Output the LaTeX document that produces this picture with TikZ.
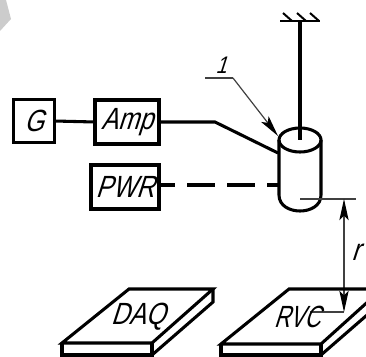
\documentclass[tikz,border=0pt]{standalone}
\usepackage{fontspec}
\usetikzlibrary{arrows.meta}
\newfontfamily\gostfont[FakeSlant=0.32,FakeStretch=0.82]{Liberation Sans}
\newfontfamily\gostnarrow[FakeSlant=0.32,FakeStretch=0.72]{Liberation Sans}
\tikzset{
  px/.style={x=0.75pt,y=-0.75pt},
  thick line/.style={line width=2.3pt,line join=miter},
  thin line/.style={line width=0.9pt,black!75},
  label box/.style={draw,line width=2.3pt,outer sep=0pt,inner sep=0pt,font=\gostfont\fontsize{23}{23}\selectfont},
  label text/.style={inner sep=0pt,font=\gostfont\fontsize{23}{23}\selectfont},
  >={Stealth[length=16pt,width=7pt,inset=3.5pt,black]},
}
\begin{document}
\begin{tikzpicture}[px]
\useasboundingbox (0,0) rectangle (366,356);
\clip (0,0) rectangle (366,356);
\fill[gray!40] (0,0) -- (6,0) -- (11,19) -- (0,31) -- cycle;

\node[label box,minimum width=30.75pt,minimum height=32.25pt] (G) at (34,121) {G};
\node[label box,minimum width=48pt,minimum height=33pt] (Amp) at (127,122) {Amp};
\node[label box,minimum width=51pt,minimum height=33pt] (PWR) at (125,187) {PWR};
\coordinate (cylC) at (300,140);
\coordinate (wall) at (300,21);
\coordinate (bend) at (215,122);
\coordinate (cylIn) at (278,153);
\coordinate (cylDash) at (279,185);
\coordinate (ldA) at (205,78);
\coordinate (ldB) at (233,78);
\coordinate (ldC) at (278,136);
\coordinate (dimTop) at (344,199);
\coordinate (dimBot) at (344,312);

\draw[thick line] (G.east) -- (Amp.west);
\draw[thick line] (Amp.east) -- (bend) -- (cylIn);
\draw[thick line,dash pattern=on 21pt off 9pt,dash phase=9pt] (PWR.east |- cylDash) -- (cylDash);

% cylinder
\draw[thick line] (cylC) ellipse [x radius=21,y radius=12];
\draw[thick line] (279,140) -- (279,195) .. controls (279,206) and (290,211) .. (300,211) .. controls (310,211) and (321,206) .. (321,195) -- (321,140);
% suspension
\draw[thick line] (wall) -- (cylC);
\draw[line width=1.8pt] (280,21) -- (320,21);
\foreach \h in {283,297,310}{\draw[line width=1.5pt] (\h,13) -- (\h+9,21);}

% leader
\draw[thin line] (ldA) -- (ldB);
\draw[thin line,->] (ldB) -- (ldC);
\node[inner sep=0pt,font=\gostfont\fontsize{18}{18}\selectfont] (one) at (221,65) {1};

% dimension
\draw[thin line] (300,199) -- (356,199);
\draw[thin line] (310,312) -- (344,312);
\draw[thin line,<->] (dimTop) -- (dimBot);
\node[label text,anchor=west] (r) at (351,252) {r};

% DAQ plate
\draw[thick line] (62,343) -- (129,289) -- (213,289) -- (152,343) -- cycle;
\draw[thick line] (62,343) -- (62,355) -- (152,355) -- (152,343);
\draw[thick line] (152,355) -- (213,302) -- (213,289);
\node[label text] (daq) at (138,317) {DAQ};

% RVC plate
\draw[thick line] (221,344) -- (289,289) -- (382,289) -- (321,344) -- cycle;
\draw[thick line] (221,344) -- (221,355) -- (321,355) -- (321,344);
\draw[thick line] (321,355) -- (382,302);
\node[label text,font=\gostnarrow\fontsize{23}{23}\selectfont] (rvc) at (297,317) {RVC};
\end{tikzpicture}
\end{document}
